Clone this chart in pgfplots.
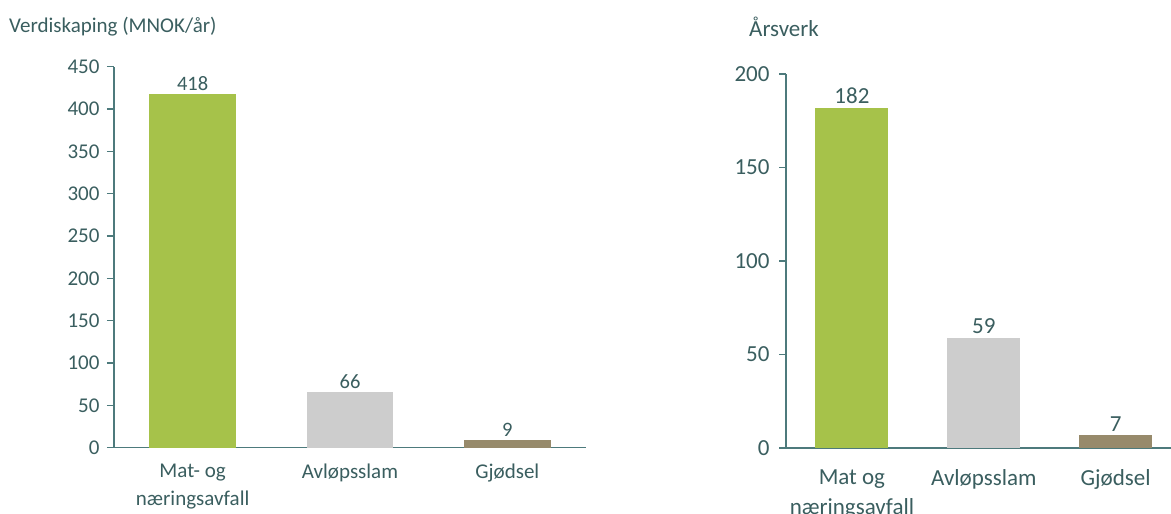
\documentclass[border=0pt]{standalone}
\usepackage{fontspec}
\setmainfont{Carlito}
\usepackage{pgfplots}
\pgfplotsset{compat=1.18}
\definecolor{txt}{HTML}{3A5E5F}
\definecolor{axc}{HTML}{4D7A7C}
\definecolor{cgreen}{HTML}{A6C24A}
\definecolor{cgray}{HTML}{CDCDCD}
\definecolor{cbrown}{HTML}{978A6B}
\pgfplotsset{
  mystyle/.style={
    scale only axis, ybar, ymin=0, xtick={0,1,2},
    axis x line=bottom, axis y line=left,
    axis line style={-, draw=axc, line width=1.3bp},
    ytick style={draw=axc, line width=1.3bp},
    tick align=outside, major tick length=7bp,
    xtick style={draw=none},
    /pgf/number format/assume math mode=true,
    ticklabel style={text=txt},
    nodes near coords,
    every node near coord/.append style={text=txt},
    xticklabel style={align=center},
    enlargelimits=false, clip=false,
  }
}
\begin{document}
\begin{tikzpicture}
\useasboundingbox (0,0) rectangle (1171bp,514bp);
% Left chart
\begin{axis}[mystyle,
  at={(114bp,66.3bp)}, anchor=south west,
  width=472bp, height=381bp,
  xmin=-0.5, xmax=2.5, ymax=450,
  ytick={0,50,...,450},
  bar width=86.6bp,
  ticklabel style={font=\fontsize{21bp}{28bp}\selectfont},
  yticklabel style={xshift=-4bp},
  xticklabel style={yshift=-6bp},
  every node near coord/.append style={font=\fontsize{20.5bp}{24bp}\selectfont},
  xticklabels={{Mat- og\\næringsavfall}, Avløpsslam, Gjødsel},
]
\addplot[fill=cgreen, draw=none, bar shift=0pt] coordinates {(0,418)};
\addplot[fill=cgray, draw=none, bar shift=0pt] coordinates {(1,66)};
\addplot[fill=cbrown, draw=none, bar shift=0pt] coordinates {(2,9)};
\end{axis}
% Right chart
\begin{axis}[mystyle,
  at={(786bp,66bp)}, anchor=south west,
  width=385bp, height=374bp,
  xmin=-0.5, xmax=2.42, ymax=200,
  ytick={0,50,...,200},
  bar width=73bp,
  ticklabel style={font=\fontsize{23bp}{30bp}\selectfont},
  yticklabel style={xshift=-6bp},
  xticklabel style={yshift=-11bp},
  every node near coord/.append style={font=\fontsize{23bp}{27bp}\selectfont},
  xticklabels={{Mat og\\næringsavfall}, Avløpsslam, Gjødsel},
]
\addplot[fill=cgreen, draw=none, bar shift=0pt] coordinates {(0,182)};
\addplot[fill=cgray, draw=none, bar shift=0pt] coordinates {(1,59)};
\addplot[fill=cbrown, draw=none, bar shift=0pt] coordinates {(2,7)};
\end{axis}
\node[anchor=west, text=txt, font=\fontsize{21bp}{25bp}\selectfont, inner sep=0pt] at (9bp,487bp) {Verdiskaping (MNOK/år)};
\node[anchor=west, text=txt, font=\fontsize{23bp}{27bp}\selectfont, inner sep=0pt] at (749bp,487bp) {Årsverk};
\end{tikzpicture}
\end{document}
